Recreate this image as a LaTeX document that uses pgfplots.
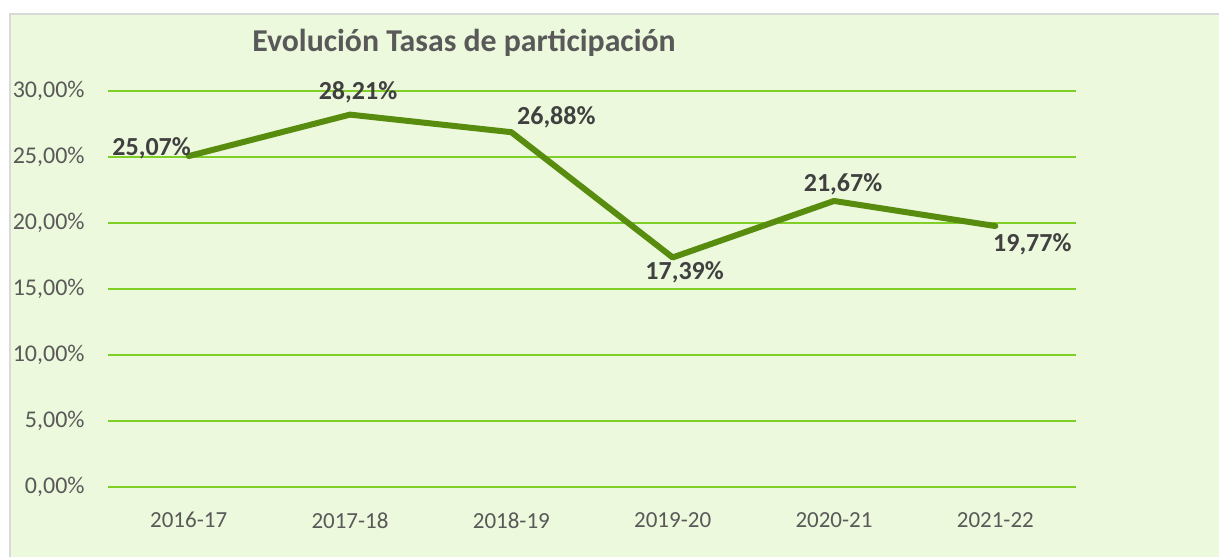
\documentclass[border=0pt]{standalone}
\usepackage{fontspec}
\setmainfont{Carlito}
\usepackage{pgfplots}
\usepackage{pgfplotstable}
\pgfplotsset{compat=1.18}
\definecolor{bgc}{RGB}{237,249,221}
\definecolor{gridc}{RGB}{128,206,40}
\definecolor{linec}{RGB}{88,140,14}
\definecolor{labc}{RGB}{64,64,64}
\definecolor{tickc}{RGB}{89,89,89}
\definecolor{framec}{RGB}{217,217,217}
\pgfplotstableread{
x y dx dy
0 25.07 -18.5 4
1 28.21 4 11.3
2 26.88 22.5 7.5
3 17.39 6 -7.25
4 21.67 4.5 8.5
5 19.77 18.5 -9
}\datatable
\begin{document}
\begin{tikzpicture}
\useasboundingbox (-54pt,-35pt) rectangle (555.5pt,243.5pt);
\fill[white] (-54pt,-35pt) rectangle (555.5pt,243.5pt);
\fill[bgc] (-49pt,-35pt) rectangle (555.5pt,236.5pt);
\draw[framec,line width=1pt] (-49pt,-35pt) -- (-49pt,236.5pt) -- (555.5pt,236.5pt);
\begin{axis}[
  at={(0,0)}, anchor=south west,
  scale only axis, width=484pt, height=198pt,
  xmin=-0.5, xmax=5.5, ymin=0, ymax=30,
  axis line style={draw=none},
  major tick length=0pt,
  /pgf/number format/assume math mode=true,
  xtick={0,1,2,3,4,5},
  xticklabels={2016-17,2017-18,2018-19,2019-20,2020-21,2021-22},
  ytick={0,5,10,15,20,25,30},
  yticklabel={\pgfmathprintnumber[fixed,fixed zerofill,precision=2,use comma]{\tick}\%},
  ymajorgrids, grid style={gridc, line width=1pt},
  x tick label style={font=\fontsize{11.5}{13}\selectfont, text=tickc, inner sep=0pt, anchor=north, yshift=-12.5pt},
  y tick label style={font=\fontsize{12}{14}\selectfont, text=tickc, inner sep=0pt, anchor=east, xshift=-11.5pt},
  clip=false,
]
\addplot[linec, line width=3pt, line join=round, line cap=round,
  nodes near coords={\pgfmathprintnumber[fixed,fixed zerofill,precision=2,use comma,assume math mode=true]{\pgfplotspointmeta}\%},
  point meta=explicit,
  visualization depends on={\thisrow{dx} \as \mydx},
  visualization depends on={\thisrow{dy} \as \mydy},
  every node near coord/.append style={font=\bfseries\fontsize{13}{15}\selectfont, text=labc, anchor=center, inner sep=0pt, xshift=\mydx pt, yshift=\mydy pt},
] table[x=x, y=y, meta=y] {\datatable};
\end{axis}
\node[anchor=west, inner sep=0pt, font=\bfseries\fontsize{15.9}{18}\selectfont, text=tickc] at (72pt,222pt) {Evolución Tasas de participación};
\end{tikzpicture}
\end{document}
